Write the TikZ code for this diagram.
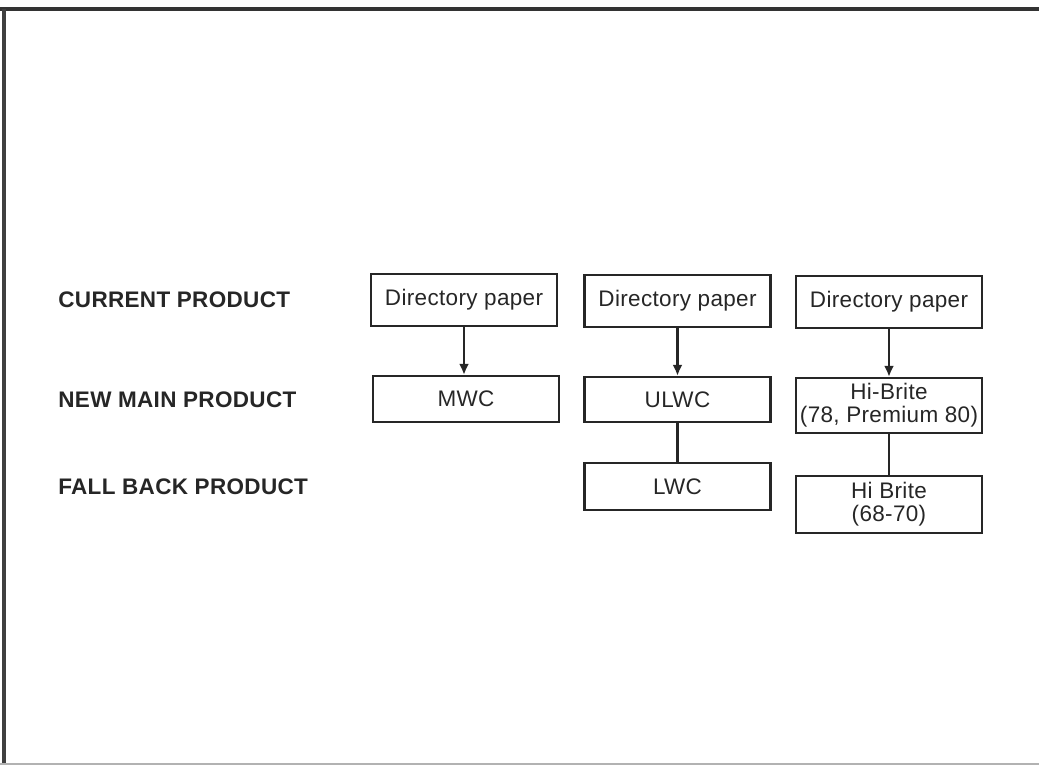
\documentclass[tikz,border=0pt]{standalone}
\usepackage{fontspec}
\setmainfont[LetterSpace=1.5]{Liberation Sans}
\usetikzlibrary{arrows.meta}
\begin{document}
\begin{tikzpicture}[x=0.02cm, y=-0.02cm,
  font=\fontsize{12.8}{13}\selectfont,
  prod/.style={draw=black!85, line width=1.3pt, minimum width=3.72cm,
               minimum height=#1, inner sep=0pt, align=center, text=black!85},
  tier/.style={anchor=west, inner sep=0pt, text=black!85,
               font=\fontsize{12.8}{13}\selectfont\bfseries},
  arrow/.style={-{Latex[length=0.22cm, width=0.2cm]}, line width=1.4pt, draw=black!85},
  link/.style={line width=1.4pt, draw=black!85}
]
  \useasboundingbox (0,0) rectangle (1039,765);
  % frame
  \draw[line width=2pt, black!80] (0,9) -- (1039,9);
  \draw[line width=1.8pt, black!75] (4,9) -- (4,765);
  \draw[line width=0.8pt, black!30] (0,764) -- (1039,764);

  % row labels
  \node[tier] (lcur)  at (58,300) {CURRENT PRODUCT};
  \node[tier] (lmain) at (58,400) {NEW MAIN PRODUCT};
  \node[tier] (lfall) at (58,487) {FALL BACK PRODUCT};

  % column 1
  \node[prod=1.04cm] (cur1)  at (464,300)   {Directory paper};
  \node[prod=0.92cm] (main1) at (466,399)   {MWC};
  % column 2
  \node[prod=1.04cm] (cur2)  at (677.5,301) {Directory paper};
  \node[prod=0.90cm] (main2) at (677.5,399.5) {ULWC};
  \node[prod=0.94cm] (fall2) at (677.5,486.5) {LWC};
  % column 3
  \node[prod=1.04cm] (cur3)  at (889,302)   {Directory paper};
  \node[prod=1.10cm] (main3) at (889,405.5) {Hi-Brite\\(78, Premium 80)};
  \node[prod=1.14cm] (fall3) at (889,504.5) {Hi Brite\\(68-70)};

  \draw[arrow] (cur1.south) -- (cur1.south |- main1.north);
  \draw[arrow] (cur2) -- (main2);
  \draw[arrow] (cur3) -- (main3);
  \draw[link] (main2) -- (fall2);
  \draw[link] (main3) -- (fall3);
\end{tikzpicture}
\end{document}
